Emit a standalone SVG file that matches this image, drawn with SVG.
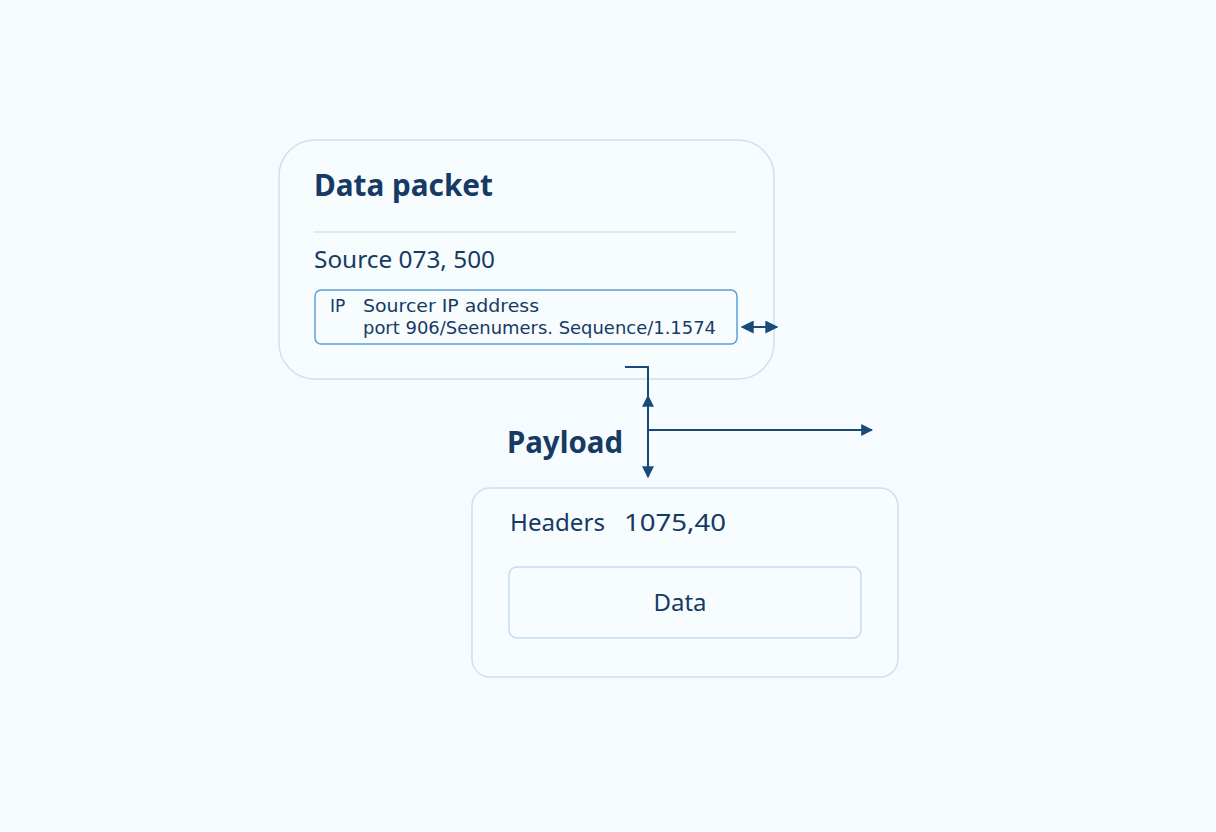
<svg xmlns="http://www.w3.org/2000/svg" width="1216" height="832" viewBox="0 0 1216 832">
<defs>
<style>
.card{fill:#f7fcff;stroke:#cfe0ee;stroke-width:1.5}
.t{font-family:"Noto Sans","Open Sans",sans-serif;fill:#163a63}
.b{font-weight:bold}
.m{font-family:"DejaVu Sans","Noto Sans",sans-serif;fill:#163a63;font-size:17px}
.ln{stroke:#1a4a78;stroke-width:2;fill:none}
</style>
<marker id="ah" viewBox="0 0 10 10" refX="9" refY="5" markerWidth="12" markerHeight="12" markerUnits="userSpaceOnUse" orient="auto-start-reverse">
<path d="M0 0 L10 5 L0 10 z" fill="#1a4a78"/>
</marker>
<marker id="ahb" viewBox="0 0 10 10" refX="9" refY="5" markerWidth="13" markerHeight="13" markerUnits="userSpaceOnUse" orient="auto-start-reverse">
<path d="M0 0 L10 5 L0 10 z" fill="#1a4a78"/>
</marker>
</defs>
<rect width="1216" height="832" fill="#f5fbfe"/>
<g id="packet">
<rect class="card" x="279" y="140" width="495" height="239" rx="36"/>
<text class="t b" x="314" y="196" font-size="29.5" textLength="179" lengthAdjust="spacingAndGlyphs">Data packet</text>
<line x1="314" y1="232" x2="737" y2="232" stroke="#d7e5ef" stroke-width="1.5"/>
<text class="t" x="314" y="268" font-size="24" textLength="181" lengthAdjust="spacingAndGlyphs">Source 073, 500</text>
<rect x="315" y="290" width="422" height="54" rx="6" fill="#f7fcff" stroke="#5b9fd3" stroke-width="1.5"/>
<text class="m" x="330" y="312">IP</text>
<text class="m" x="363" y="312" textLength="176" lengthAdjust="spacingAndGlyphs">Sourcer IP address</text>
<text class="m" x="363" y="334" textLength="353" lengthAdjust="spacingAndGlyphs">port 906/Seenumers. Sequence/1.1574</text>
</g>
<g id="payload-label">
<text class="t b" x="507" y="453" font-size="29.5" textLength="116" lengthAdjust="spacingAndGlyphs">Payload</text>
</g>
<g id="headers">
<rect class="card" x="472" y="488" width="426" height="189" rx="18"/>
<text class="t" x="510" y="531" font-size="24" textLength="95" lengthAdjust="spacingAndGlyphs">Headers</text>
<text class="t" x="624" y="531" font-size="24" textLength="102" lengthAdjust="spacingAndGlyphs">1075,40</text>
<rect x="509" y="567" width="352" height="71" rx="8" fill="#f7fcff" stroke="#c6daee" stroke-width="1.5"/>
<text class="t" x="680" y="611" font-size="24" text-anchor="middle">Data</text>
</g>
<g id="connectors">
<line class="ln" x1="742" y1="327" x2="777" y2="327" stroke-width="2.5" marker-start="url(#ahb)" marker-end="url(#ahb)"/>
<path class="ln" d="M625 367 H648 V396"/>
<line class="ln" x1="648" y1="396" x2="648" y2="477" marker-start="url(#ah)" marker-end="url(#ah)"/>
<line class="ln" x1="648" y1="430" x2="872" y2="430" marker-end="url(#ah)"/>
</g>
</svg>
